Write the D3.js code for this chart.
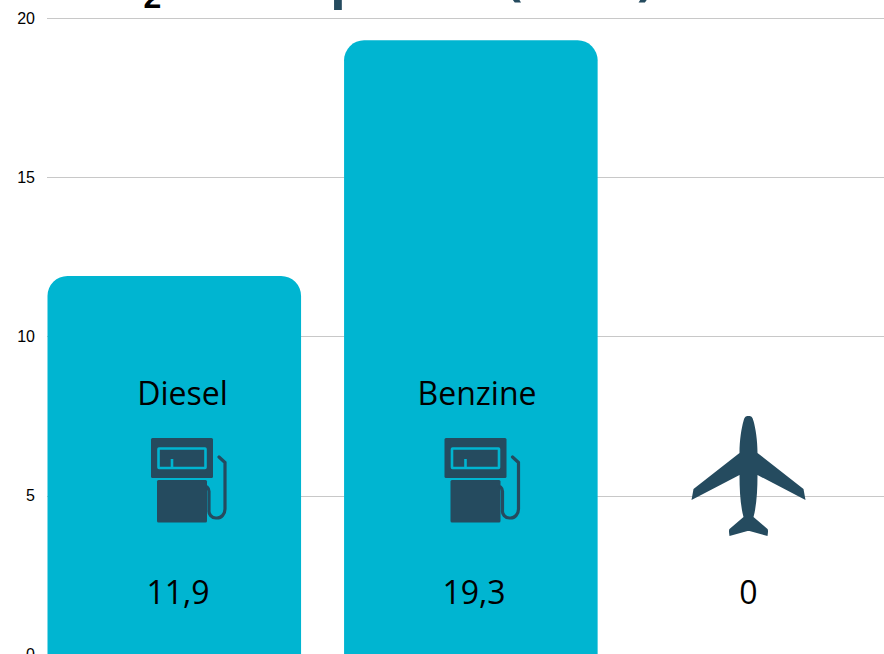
<!DOCTYPE html>
<html><head><meta charset="utf-8">
<script src="https://cdn.jsdelivr.net/npm/d3@7/dist/d3.min.js"></script>
<style>html,body{margin:0;padding:0;background:#fff;overflow:hidden}svg{display:block}</style>
</head><body><svg id="c" width="884" height="654"></svg>
<script>
const categories = ["Diesel", "Benzine", "Kerosine"];
const values = [11.9, 19.3, 0];
const valueLabels = ["11,9", "19,3", "0"];
const categoryLabels = ["Diesel", "Benzine", ""];
const tickValues = [0, 5, 10, 15, 20];
const titleFragments = ["2", "p", "(", ")"];

const BAR = "#00b5d1", DARK = "#254b5f";
const svg = d3.select("#c");
const y = d3.scaleLinear().domain([0, 20]).range([654.8, 18]);
const x = d3.scaleBand().domain(categories).range([26, 915.7]).paddingInner(0.145).paddingOuter(0.0725);

// axis and gridlines
const ax = svg.append("g").attr("transform", "translate(47,0)")
  .call(d3.axisLeft(y).tickValues(tickValues).tickSizeInner(-837).tickSizeOuter(0).tickPadding(12));
ax.select(".domain").remove();
ax.selectAll("line").attr("stroke", "#c8c8c8").attr("stroke-width", 1).attr("shape-rendering", "crispEdges");
ax.selectAll("text").attr("font-family", "Liberation Sans").attr("font-size", 16).attr("fill", "#000");

// bars: rounded top only
const barPath = (d, i) => {
  const x0 = x(categories[i]), w = x.bandwidth(), t = y(d), b = y(0), r = Math.min(20, b - t);
  return `M${x0},${b}V${t + r}A${r},${r} 0 0 1 ${x0 + r},${t}H${x0 + w - r}A${r},${r} 0 0 1 ${x0 + w},${t + r}V${b}Z`;
};
svg.append("g").selectAll("path").data(values).join("path")
  .attr("d", barPath).attr("fill", BAR);

// clipped title fragments
const titleX = [143.5, 330, 505, 637], titleY = [8, -3.5, -6, -6], titleFill = ["#000", DARK, DARK, DARK];
const titleSize = [32, 52, 52, 52], titleFont = ["Liberation Sans", "Open Sans", "Open Sans", "Open Sans"];
svg.append("g").selectAll("text").data(titleFragments).join("text")
  .attr("x", (d, i) => titleX[i]).attr("y", (d, i) => titleY[i])
  .attr("font-family", (d, i) => titleFont[i]).attr("font-weight", 700)
  .attr("font-size", (d, i) => titleSize[i]).attr("fill", (d, i) => titleFill[i]).text(d => d);

// category and value labels
const labelX = [182.5, 477, 748.5], valueX = [178, 474, 748.5];
const txt = svg.append("g").attr("font-family", "Open Sans").attr("font-size", 32)
  .attr("fill", "#000").attr("text-anchor", "middle");
txt.selectAll(".cat").data(categoryLabels).join("text").attr("class", "cat")
  .attr("x", (d, i) => labelX[i]).attr("y", 405).text(d => d);
txt.selectAll(".val").data(valueLabels).join("text").attr("class", "val")
  .attr("x", (d, i) => valueX[i]).attr("y", 604).text(d => d);

// icons
function pump(g) {
  g.append("rect").attr("width", 62).attr("height", 40).attr("rx", 1.5).attr("fill", DARK);
  g.append("rect").attr("x", 7.5).attr("y", 10.5).attr("width", 47).attr("height", 19.5).attr("rx", 0.5)
    .attr("fill", "none").attr("stroke", BAR).attr("stroke-width", 2.6);
  g.append("path").attr("d", "M21,21V30").attr("stroke", BAR).attr("stroke-width", 2.6).attr("fill", "none");
  g.append("rect").attr("x", 6).attr("y", 42).attr("width", 50).attr("height", 42.5).attr("rx", 1.5).attr("fill", DARK);
  g.append("path").attr("fill", "none").attr("stroke", DARK).attr("stroke-width", 3.2).attr("stroke-linecap", "round")
    .attr("d", "M68,19L74,24.5V71a8,9 0 0 1-8,9h-1a7,7 0 0 1-7-8V54a6,6 0 0 0-2-5");
}
[151, 444.5].forEach(px => pump(svg.append("g").attr("transform", `translate(${px},438)`)));

svg.append("path").attr("fill", DARK).attr("transform", "translate(748.5,416)")
  .attr("d", "M0,0C3,0 4,1 5,5C7,12 9,24 9,37L55,73L57,84L9,59C9,75 8,90 5,101L19,113Q20,114 19,120L1,115L-1,115L-19,120Q-20,114 -19,113L-5,101C-8,90 -9,75 -9,59L-57,84L-55,73L-9,37C-9,24 -7,12 -5,5C-4,1 -3,0 0,0Z");
</script></body></html>
